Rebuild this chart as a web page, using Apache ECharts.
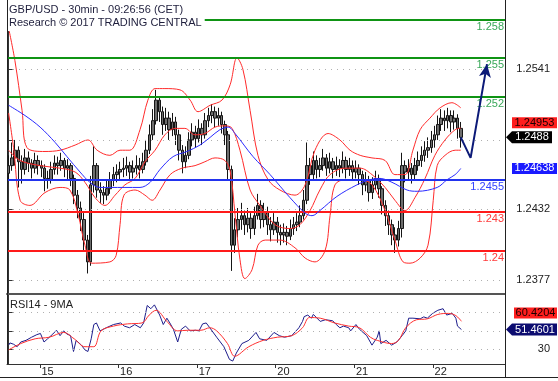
<!DOCTYPE html>
<html><head><meta charset="utf-8">
<script src="https://cdn.jsdelivr.net/npm/echarts@6/dist/echarts.min.js"></script>
<style>html,body{margin:0;padding:0;background:#fff}#c{width:558px;height:381px}</style>
</head><body><div id="c"></div>
<script>
// ---------- data ----------
const days = ['14','15','16','17','20','21','22'];
const firstDayStartHour = 14;
const slotCount = 152;               // bars + empty room for projection
const priceTicks = [1.2377, 1.2432, 1.2486, 1.2541];
const rsiTicks = [30, 50, 70];

const opens = [1.2460,
1.2466,1.2472,1.2478,1.2469,1.2463,1.2472,1.2468,1.2464,1.2470,1.2466,
1.2464,1.2456,1.2455,1.2463,1.2468,1.2466,1.2470,1.2464,1.2466,1.2456,
1.2443,1.2433,1.2424,1.2408,1.2391,1.2451,1.2466,1.2447,1.2445,1.2443,
1.2448,1.2455,1.2459,1.2461,1.2463,1.2464,1.2466,1.2461,1.2464,1.2466,
1.2463,1.2469,1.2478,1.2490,1.2501,1.2517,1.2508,1.2498,1.2503,1.2494,
1.2500,1.2490,1.2478,1.2469,1.2474,1.2486,1.2492,1.2487,1.2495,1.2490,
1.2501,1.2505,1.2508,1.2503,1.2505,1.2498,1.2490,1.2463,1.2404,1.2416,
1.2424,1.2427,1.2420,1.2425,1.2417,1.2427,1.2435,1.2424,1.2430,1.2420,
1.2416,1.2422,1.2414,1.2412,1.2414,1.2411,1.2417,1.2420,1.2422,1.2427,
1.2439,1.2466,1.2459,1.2470,1.2463,1.2466,1.2472,1.2464,1.2469,1.2463,
1.2466,1.2464,1.2470,1.2463,1.2466,1.2461,1.2464,1.2459,1.2451,1.2455,
1.2445,1.2451,1.2456,1.2448,1.2435,1.2427,1.2420,1.2412,1.2408,1.2417,
1.2466,1.2461,1.2464,1.2459,1.2466,1.2470,1.2474,1.2478,1.2480,1.2486,
1.2490,1.2498,1.2503,1.2501,1.2505,1.2500,1.2503,1.2495];
const closes = [
1.2466,1.2472,1.2478,1.2469,1.2463,1.2472,1.2468,1.2464,1.2470,1.2466,
1.2464,1.2456,1.2455,1.2463,1.2468,1.2466,1.2470,1.2464,1.2466,1.2456,
1.2443,1.2433,1.2424,1.2408,1.2391,1.2451,1.2466,1.2447,1.2445,1.2443,
1.2448,1.2455,1.2459,1.2461,1.2463,1.2464,1.2466,1.2461,1.2464,1.2466,
1.2463,1.2469,1.2478,1.2490,1.2501,1.2517,1.2508,1.2498,1.2503,1.2494,
1.2500,1.2490,1.2478,1.2469,1.2474,1.2486,1.2492,1.2487,1.2495,1.2490,
1.2501,1.2505,1.2508,1.2503,1.2505,1.2498,1.2490,1.2463,1.2404,1.2416,
1.2424,1.2427,1.2420,1.2425,1.2417,1.2427,1.2435,1.2424,1.2430,1.2420,
1.2416,1.2422,1.2414,1.2412,1.2414,1.2411,1.2417,1.2420,1.2422,1.2427,
1.2439,1.2466,1.2459,1.2470,1.2463,1.2466,1.2472,1.2464,1.2469,1.2463,
1.2466,1.2464,1.2470,1.2463,1.2466,1.2461,1.2464,1.2459,1.2451,1.2455,
1.2445,1.2451,1.2456,1.2448,1.2435,1.2427,1.2420,1.2412,1.2408,1.2417,
1.2466,1.2461,1.2464,1.2459,1.2466,1.2470,1.2474,1.2478,1.2480,1.2486,
1.2490,1.2498,1.2503,1.2501,1.2505,1.2500,1.2503,1.2495,1.2488];
const highs = [
1.2474,1.2484,1.2486,1.2481,1.2474,1.2479,1.2477,1.2471,1.2476,1.2474,
1.2470,1.2467,1.2462,1.2469,1.2474,1.2473,1.2476,1.2472,1.2471,1.2468,
1.2459,1.2447,1.2438,1.2429,1.2412,1.2458,1.2481,1.2468,1.2453,1.2450,
1.2455,1.2461,1.2465,1.2467,1.2469,1.2472,1.2473,1.2469,1.2470,1.2474,
1.2472,1.2476,1.2486,1.2498,1.2510,1.2525,1.2520,1.2512,1.2511,1.2508,
1.2507,1.2504,1.2494,1.2482,1.2481,1.2492,1.2499,1.2497,1.2502,1.2499,
1.2507,1.2511,1.2514,1.2512,1.2511,1.2508,1.2501,1.2493,1.2466,1.2425,
1.2433,1.2437,1.2431,1.2433,1.2429,1.2434,1.2444,1.2439,1.2437,1.2434,
1.2426,1.2429,1.2426,1.2420,1.2421,1.2419,1.2424,1.2426,1.2429,1.2435,
1.2447,1.2484,1.2472,1.2477,1.2474,1.2472,1.2479,1.2475,1.2476,1.2472,
1.2473,1.2471,1.2477,1.2473,1.2472,1.2470,1.2470,1.2467,1.2462,1.2461,
1.2458,1.2457,1.2462,1.2459,1.2450,1.2439,1.2431,1.2424,1.2418,1.2423,
1.2476,1.2470,1.2471,1.2468,1.2472,1.2477,1.2481,1.2485,1.2488,1.2493,
1.2497,1.2505,1.2510,1.2509,1.2511,1.2509,1.2509,1.2506,1.2500];
const lows = [
1.2455,1.2462,1.2466,1.2449,1.2452,1.2459,1.2461,1.2456,1.2460,1.2459,
1.2457,1.2446,1.2448,1.2452,1.2459,1.2459,1.2462,1.2457,1.2455,1.2450,
1.2436,1.2425,1.2415,1.2400,1.2382,1.2388,1.2445,1.2441,1.2437,1.2436,
1.2439,1.2444,1.2450,1.2453,1.2455,1.2457,1.2458,1.2454,1.2456,1.2459,
1.2456,1.2460,1.2466,1.2475,1.2486,1.2498,1.2500,1.2490,1.2493,1.2486,
1.2489,1.2482,1.2470,1.2460,1.2464,1.2471,1.2481,1.2480,1.2484,1.2482,
1.2487,1.2496,1.2499,1.2496,1.2497,1.2491,1.2482,1.2455,1.2384,1.2398,
1.2410,1.2416,1.2412,1.2414,1.2409,1.2412,1.2424,1.2417,1.2418,1.2412,
1.2407,1.2412,1.2406,1.2404,1.2406,1.2404,1.2408,1.2412,1.2415,1.2418,
1.2424,1.2436,1.2451,1.2455,1.2456,1.2457,1.2462,1.2458,1.2460,1.2456,
1.2458,1.2457,1.2460,1.2456,1.2458,1.2454,1.2456,1.2451,1.2443,1.2446,
1.2438,1.2440,1.2447,1.2441,1.2428,1.2419,1.2412,1.2404,1.2398,1.2403,
1.2410,1.2453,1.2455,1.2452,1.2455,1.2462,1.2465,1.2469,1.2472,1.2476,
1.2480,1.2486,1.2493,1.2493,1.2495,1.2492,1.2494,1.2487,1.2480];

// Bollinger bands and moving average: [bar index, price]
const bbUpper = [[0,1.2573],[1.9,1.2548],[4.1,1.2509],[5.6,1.2480],[11.1,1.2477],[15.7,1.2478],[20.3,1.2482],[24.2,1.2486],[27.0,1.2478],[30.9,1.2474],[34.0,1.2478],[37.0,1.2478],[40.1,1.2494],[42.5,1.2517],[44.7,1.2526],[47.7,1.2526],[52.3,1.2525],[55.4,1.2517],[57.8,1.2508],[61.5,1.2513],[65.1,1.2517],[67.6,1.2529],[69.7,1.2550],[71.5,1.2541],[73.7,1.2509],[76.1,1.2474],[79.2,1.2455],[82.8,1.2447],[87.4,1.2443],[90.5,1.2451],[93.5,1.2478],[97.5,1.2491],[101.1,1.2486],[104.2,1.2478],[107.3,1.2474],[110.9,1.2472],[114.9,1.2470],[117.9,1.2459],[121.0,1.2459],[123.4,1.2478],[125.6,1.2494],[128.6,1.2503],[131.7,1.2511],[135.3,1.2515],[138,1.2511]];
const bbMid = [[0,1.2478],[3.5,1.2470],[9.6,1.2466],[15.7,1.2464],[20.3,1.2461],[23.3,1.2453],[26.4,1.2441],[29.4,1.2435],[32.5,1.2443],[35.5,1.2451],[38.6,1.2456],[41.6,1.2469],[44.7,1.2478],[47.7,1.2490],[50.8,1.2495],[53.8,1.2495],[56.9,1.2490],[59.9,1.2491],[63.0,1.2496],[66.0,1.2497],[68.2,1.2495],[70.6,1.2478],[73.7,1.2447],[76.7,1.2435],[81.3,1.2420],[85.9,1.2417],[88.9,1.2420],[92.0,1.2431],[95.0,1.2447],[98.1,1.2459],[102.7,1.2464],[107.3,1.2464],[110.9,1.2459],[114.9,1.2449],[117.9,1.2439],[121.0,1.2431],[124.0,1.2441],[127.1,1.2456],[130.1,1.2474],[133.2,1.2486],[136.3,1.2494],[138,1.24953]];
const bbLower = [[0,1.2507],[1.6,1.2478],[3.5,1.2439],[6.5,1.2435],[11.1,1.2445],[15.7,1.2449],[18.7,1.2447],[21.2,1.2428],[23.3,1.2404],[25.4,1.2390],[30.9,1.2391],[32.8,1.2396],[34.0,1.2420],[35.2,1.2443],[38.6,1.2447],[41.6,1.2443],[43.8,1.2439],[46.2,1.2447],[49.3,1.2459],[52.9,1.2464],[56.9,1.2466],[59.9,1.2469],[63.0,1.2472],[66.0,1.2470],[67.6,1.2462],[69.1,1.2428],[70.6,1.2393],[72.1,1.2378],[74.3,1.2385],[76.1,1.2404],[78.3,1.2408],[82.8,1.2408],[87.4,1.2402],[90.5,1.2394],[93.5,1.2391],[96.6,1.2400],[98.1,1.2427],[99.6,1.2451],[102.7,1.2455],[107.3,1.2455],[110.9,1.2451],[114.9,1.2431],[117.9,1.2408],[120.4,1.2391],[122.5,1.2390],[125.6,1.2394],[128.0,1.2404],[129.6,1.2439],[130.8,1.2466],[133.2,1.2474],[136.3,1.2478],[138,1.2478]];
const ma = [[0,1.2513],[5.0,1.2505],[9.6,1.2496],[14.2,1.2484],[17.8,1.2473],[21.8,1.2461],[24.8,1.2453],[27.9,1.2449],[30.9,1.2449],[35.5,1.2449],[40.1,1.2449],[43.2,1.2453],[46.2,1.2463],[50.2,1.2473],[54.4,1.2477],[58.4,1.2482],[61.5,1.2488],[64.5,1.2494],[67.0,1.2496],[69.1,1.2491],[74.6,1.2473],[79.8,1.2459],[85.9,1.2441],[90.5,1.2429],[92.6,1.2427],[95.0,1.2431],[100.2,1.2442],[106.3,1.2451],[110.3,1.2455],[113.4,1.2456],[117.0,1.2453],[121.6,1.2447],[124.7,1.2446],[130.8,1.2449],[133.8,1.2455],[136.3,1.2459],[138,1.24638]];

// support / resistance levels
const levelValues = [1.258, 1.255, 1.252, 1.2455, 1.243, 1.24];
const levelKinds  = ['res','res','res','pivot','sup','sup'];

// projection path
const projIdx = [138, 141, 146];
const projVal = [1.2488, 1.2472, 1.2545];

// RSI(14) and its 9-period MA: [bar index, value]
const rsi = [[0,34.5],[0.4,36.9],[1.5,35.5],[2.6,32.8],[3.7,37.9],[5.3,39.7],[7.0,43.1],[8.6,45.9],[9.7,47.2],[10.8,37.9],[11.9,41.4],[13.5,46.6],[14.6,50.7],[15.7,44.8],[16.8,50.0],[17.8,46.6],[18.9,44.8],[19.8,27.6],[20.6,39.7],[22.2,34.5],[23.3,29.3],[24.2,27.6],[25.2,41.4],[26.0,56.9],[26.8,58.6],[27.9,50.0],[29.8,53.4],[32.0,56.9],[34.2,58.6],[35.3,55.2],[36.9,53.4],[38.5,56.9],[40.2,53.4],[41.2,58.6],[42.3,77.6],[43.4,74.1],[44.5,78.3],[45.0,79.0],[46.1,67.2],[47.2,56.9],[48.3,63.8],[49.2,58.6],[50.3,51.7],[51.6,37.9],[52.7,51.7],[54.0,55.2],[55.4,50.0],[57.0,50.7],[58.1,50.0],[59.2,57.6],[60.3,58.6],[61.4,53.4],[63.5,43.1],[65.7,32.8],[67.4,19.0],[68.4,17.2],[69.5,25.9],[71.2,36.2],[73.3,39.7],[75.5,48.3],[76.6,41.4],[78.8,39.7],[81.0,48.3],[82.6,44.8],[84.2,43.1],[86.4,44.8],[88.6,53.4],[89.7,60.3],[90.2,65.5],[91.3,67.2],[92.4,63.8],[93.0,67.9],[95.1,60.3],[96.7,62.1],[98.9,61.0],[100.0,56.9],[101.1,53.4],[102.2,55.2],[103.8,53.4],[104.4,50.0],[106.0,56.9],[107.1,51.7],[109.3,44.8],[110.9,34.5],[112.5,43.1],[113.1,50.0],[113.6,36.2],[115.2,39.7],[116.9,34.5],[118.5,37.9],[120.1,44.8],[121.2,50.0],[122.1,63.8],[123.4,63.8],[125.6,63.1],[126.7,65.2],[127.8,63.8],[129.4,69.0],[131.0,72.4],[132.6,74.1],[133.7,67.2],[135.4,69.0],[136.5,63.8],[137.0,55.2],[137.6,56.9],[138.2,51.4601]];
const rsiMa = [[0,29.3],[3.7,36.2],[8.1,41.4],[12.4,43.1],[16.8,48.3],[20.0,41.4],[23.3,32.8],[26.0,32.8],[28.2,50.0],[32.0,55.2],[36.3,57.6],[40.7,58.6],[42.9,67.2],[45.0,72.4],[48.3,60.3],[51.6,50.0],[54.8,50.7],[58.7,50.7],[61.4,53.4],[63.5,50.0],[66.8,36.2],[69.0,22.4],[73.3,32.8],[77.7,39.7],[82.0,43.1],[86.4,44.8],[89.7,53.4],[91.8,64.5],[95.1,63.8],[99.5,58.6],[103.8,55.2],[107.1,53.4],[110.4,43.1],[112.5,39.7],[116.9,36.2],[119.0,39.7],[121.2,53.4],[124.5,62.1],[127.8,63.1],[131.0,67.9],[134.3,69.0],[136.5,66.6],[138.2,60.4204]];

// ---------- build ----------
const FONT = 'Arial, "Liberation Sans", sans-serif';
const categories = [];
for (const d of days) {
  for (let h = 0; h < 24; h++) {
    if (d === days[0] && h < firstDayStartHour) continue;
    if (categories.length < slotCount) categories.push(d + ' ' + String(h).padStart(2, '0') + ':00');
  }
}
const isDayStart = (idx, val) => String(val).endsWith(' 00:00');
const candles = closes.map((c, i) => [opens[i], c, lows[i], highs[i]]);
const levelStyle = {
  res:   {line: '#0f9414', text: '#3aa85a'},
  pivot: {line: '#2233ee', text: '#3344ff'},
  sup:   {line: '#ff1a1a', text: '#ff3a3a'}
};
const projData = projIdx.map((x, i) => {
  const item = {value: [x, projVal[i]]};
  if (i === projIdx.length - 1) { item.symbol = 'arrow'; item.symbolSize = [9, 13]; item.symbolRotate = -9; }
  return item;
});

const chart = echarts.init(document.getElementById('c'), null, {renderer: 'canvas'});
const lineBase = {type: 'line', showSymbol: false, symbol: 'none', smooth: 0.35, silent: true, animation: false};
const dotted = {color: '#b0b0b0', type: [1, 5], width: 1};

chart.setOption({
  animation: false,
  backgroundColor: '#fff',
  textStyle: {fontFamily: FONT},
  title: [
    {text: 'GBP/USD - 30min - 09:26:56 (CET)', subtext: 'Research \u00a9 2017 TRADING CENTRAL',
     left: 7, top: 0, padding: [4, 3, 3, 2], itemGap: 2, backgroundColor: '#fff',
     textStyle: {fontSize: 11, fontWeight: 'normal', color: '#1e1e3c', fontFamily: FONT},
     subtextStyle: {fontSize: 11, color: '#1e1e3c', fontFamily: FONT}},
    {text: 'RSI14 - 9MA', left: 8, top: 297, padding: [2, 2, 2, 2],
     textStyle: {fontSize: 11, fontWeight: 'normal', color: '#222', fontFamily: FONT}}
  ],
  grid: [
    {left: 7, right: 53, top: 0, height: 294},
    {left: 7, right: 53, top: 295, height: 69}
  ],
  xAxis: [
    {type: 'category', gridIndex: 0, data: categories, boundaryGap: true,
     axisLine: {show: true, onZero: false, lineStyle: {color: '#555', width: 2}},
     axisTick: {show: false}, axisLabel: {show: false}, splitLine: {show: false}},
    {type: 'value', gridIndex: 0, min: -0.5, max: slotCount - 0.5, show: false},
    {type: 'category', gridIndex: 1, data: categories, boundaryGap: true,
     axisLine: {show: true, onZero: false, lineStyle: {color: '#333', width: 1}},
     axisTick: {show: true, interval: isDayStart, length: 4, lineStyle: {color: '#333'}},
     axisLabel: {show: true, interval: isDayStart, formatter: v => v.split(' ')[0], align: 'left',
                 margin: 2, fontSize: 11, color: '#222', fontFamily: FONT},
     splitLine: {show: false}},
    {type: 'value', gridIndex: 1, min: -0.5, max: slotCount - 0.5, show: false}
  ],
  yAxis: [
    {type: 'value', gridIndex: 0, position: 'right', min: 1.2366, max: 1.2595,
     axisLine: {show: true, lineStyle: {color: '#333'}},
     axisTick: {show: true, customValues: priceTicks, length: 4, lineStyle: {color: '#333'}},
     axisLabel: {customValues: priceTicks, formatter: v => v.toFixed(4), align: 'right', margin: 45,
                 fontSize: 11, color: '#222', fontFamily: FONT},
     splitLine: {show: false}},
    {type: 'value', gridIndex: 1, position: 'right', min: 14, max: 89,
     axisLine: {show: true, lineStyle: {color: '#333'}},
     axisTick: {show: true, customValues: rsiTicks, length: 4, lineStyle: {color: '#333'}},
     axisLabel: {customValues: rsiTicks, formatter: v => String(v), align: 'right', margin: 45,
                 fontSize: 11, color: '#222', fontFamily: FONT},
     splitLine: {show: false}}
  ],
  series: [
    {name: 'candles', type: 'candlestick', xAxisIndex: 0, yAxisIndex: 0, data: candles, barWidth: 3, z: 3,
     silent: true,
     itemStyle: {color: '#6e6e6e', color0: '#6e6e6e', borderColor: '#151515', borderColor0: '#151515', borderWidth: 1},
     markLine: {silent: true, symbol: 'none', animation: false, precision: 6, label: {show: false}, lineStyle: dotted,
                data: priceTicks.map(v => ({yAxis: v}))}},
    Object.assign({}, lineBase, {name: 'bbUpper', xAxisIndex: 1, yAxisIndex: 0, data: bbUpper, z: 4,
     lineStyle: {color: '#ff2b2b', width: 1}}),
    Object.assign({}, lineBase, {name: 'bbMid', xAxisIndex: 1, yAxisIndex: 0, data: bbMid, z: 4,
     lineStyle: {color: '#ff2b2b', width: 1}}),
    Object.assign({}, lineBase, {name: 'bbLower', xAxisIndex: 1, yAxisIndex: 0, data: bbLower, z: 4,
     lineStyle: {color: '#ff2b2b', width: 1}}),
    Object.assign({}, lineBase, {name: 'ma', xAxisIndex: 1, yAxisIndex: 0, data: ma, z: 5,
     lineStyle: {color: '#2b2bff', width: 1},
     markLine: {silent: true, symbol: 'none', animation: false, precision: 6,
                data: levelValues.map((v, i) => ({
                  yAxis: v,
                  lineStyle: {color: levelStyle[levelKinds[i]].line, width: 2, type: 'solid'},
                  label: {show: true, position: 'insideEndBottom', distance: [1, 2], formatter: String(v),
                          color: levelStyle[levelKinds[i]].text, fontSize: 11, fontFamily: FONT}
                }))}}),
    {name: 'projection', type: 'line', xAxisIndex: 1, yAxisIndex: 0, data: projData, z: 6,
     symbol: 'none', showSymbol: true, silent: true, animation: false,
     lineStyle: {color: '#0c1a78', width: 2}, itemStyle: {color: '#0c1a78'}},
    Object.assign({}, lineBase, {name: 'rsi', xAxisIndex: 3, yAxisIndex: 1, data: rsi, smooth: false, z: 4,
     lineStyle: {color: '#1e1e8c', width: 1},
     markLine: {silent: true, symbol: 'none', animation: false, precision: 4, label: {show: false}, lineStyle: dotted,
                data: rsiTicks.map(v => ({yAxis: v}))}}),
    Object.assign({}, lineBase, {name: 'rsiMa', xAxisIndex: 3, yAxisIndex: 1, data: rsiMa, smooth: 0.35, z: 5,
     lineStyle: {color: '#ff3030', width: 1}})
  ]
});

// ---------- value tags on the right (positions from the library's scales) ----------
const lastClose = closes[closes.length - 1];
const lastMid = bbMid[bbMid.length - 1][1];
const lastMa = ma[ma.length - 1][1];
const lastRsi = rsi[rsi.length - 1][1];
const lastRsiMa = rsiMa[rsiMa.length - 1][1];
const py = (axis, v) => chart.convertToPixel({yAxisIndex: axis}, v);

const yClose = py(0, lastClose);
const yMid = Math.min(py(0, lastMid), yClose - 6 - 3 - 5.5);
const yMa = py(0, lastMa);
const yRsi = py(1, lastRsi);
const yRsiMa = Math.min(py(1, lastRsiMa), yRsi - 6 - 5 - 5.5);

function arrowTag(y, x0, x1, fill) {
  return {type: 'polygon', z: 100, silent: true,
          shape: {points: [[x0, y], [x0 + 6, y - 6], [x1, y - 6], [x1, y + 6], [x0 + 6, y + 6]]},
          style: {fill: fill}};
}
function boxTag(y, x0, x1, fill) {
  return {type: 'rect', z: 100, silent: true, shape: {x: x0, y: y - 5.5, width: x1 - x0, height: 11}, style: {fill: fill}};
}
function tagText(y, cx, txt, color) {
  return {type: 'text', z: 101, silent: true, x: cx, y: y,
          style: {text: txt, fill: color, font: '11px ' + FONT, align: 'center', verticalAlign: 'middle'}};
}
function line(x1, y1, x2, y2, color, w) {
  return {type: 'line', z: 90, silent: true, shape: {x1, y1, x2, y2}, style: {stroke: color, lineWidth: w || 1}};
}

chart.setOption({
  graphic: [
    line(7.5, 0, 7.5, 364, '#222'),
    line(505.5, 0, 505.5, 377, '#222'),
    line(0, 377.5, 558, 377.5, '#222'),
    boxTag(yMid, 512, 557, '#ff1e1e'),
    tagText(yMid, 534.5, lastMid.toFixed(5), '#1a0000'),
    arrowTag(yClose, 506, 552, '#000'),
    tagText(yClose, 532, lastClose.toFixed(4), '#fff'),
    boxTag(yMa, 512, 557, '#1a1aff'),
    tagText(yMa, 534.5, lastMa.toFixed(5), '#fff'),
    boxTag(yRsiMa, 514, 557, '#ff1e1e'),
    tagText(yRsiMa, 535.5, lastRsiMa.toFixed(4), '#1a0000'),
    arrowTag(yRsi, 506, 557, '#0c0c70'),
    tagText(yRsi, 535, lastRsi.toFixed(4), '#fff')
  ]
});
</script></body></html>
